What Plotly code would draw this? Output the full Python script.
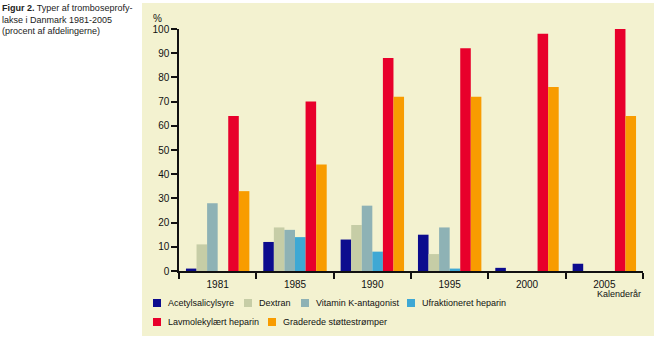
import plotly.graph_objects as go

# ---- data ----
years = ["1981", "1985", "1990", "1995", "2000", "2005"]
series_names = ["Acetylsalicylsyre", "Dextran", "Vitamin K-antagonist",
                "Ufraktioneret heparin", "Lavmolekylært heparin", "Graderede støttestrømper"]
acetylsalicylsyre = [1, 12, 13, 15, 1.3, 3]
dextran = [11, 18, 19, 7, 0, 0]
vitamin_k = [28, 17, 27, 18, 0, 0]
ufraktioneret = [0, 14, 8, 1, 0, 0]
lavmolekylaert = [64, 70, 88, 92, 98, 100]
graderede = [33, 44, 72, 72, 76, 64]
y_ticks = [0, 10, 20, 30, 40, 50, 60, 70, 80, 90, 100]

values = [acetylsalicylsyre, dextran, vitamin_k, ufraktioneret, lavmolekylaert, graderede]
colors = ["#0c0c8e", "#c6cda6", "#8eb2b5", "#3ea8d4", "#e8002b", "#f89c00"]

W, H = 654, 337
L, R, T, B = 179, 11, 29, 66
pw, ph = W - L - R, H - T - B
FONT = "Liberation Sans, Arial, sans-serif"


def px(x):
    return (x - L) / pw


def py(y):
    return (H - B - y) / ph


fig = go.Figure()
for name, vals, col in zip(series_names, values, colors):
    fig.add_trace(go.Bar(x=years, y=vals, name=name, marker=dict(color=col, line=dict(width=0)),
                         showlegend=False))

shapes = [dict(type="rect", xref="paper", yref="paper", x0=px(142), x1=px(655), y0=py(336), y1=py(3),
               fillcolor="#f3f2d0", line=dict(width=0), layer="below")]
annotations = []

# manual legend
legend_pos = [(153, 303), (244, 303), (301, 303), (407, 303), (153, 322), (268, 322)]
for (lx, ly), name, col in zip(legend_pos, series_names, colors):
    shapes.append(dict(type="rect", xref="paper", yref="paper", x0=px(lx), x1=px(lx + 8),
                       y0=py(ly + 4), y1=py(ly - 4), fillcolor=col, line=dict(width=0)))
    annotations.append(dict(xref="paper", yref="paper", x=px(lx + 13), y=py(ly), text=name,
                            showarrow=False, xanchor="left", yanchor="middle",
                            font=dict(family=FONT, size=9, color="#111")))

annotations += [
    dict(xref="paper", yref="paper", x=px(0), y=py(1), xanchor="left", yanchor="top", align="left",
         showarrow=False,
         text="<b>Figur 2.</b> Typer af tromboseprofy-<br>lakse i Danmark 1981-2005<br>(procent af afdelingerne)",
         font=dict(family=FONT, size=9, color="#222")),
    dict(xref="paper", yref="paper", x=px(157), y=py(18), text="%", showarrow=False,
         xanchor="center", yanchor="middle", font=dict(family=FONT, size=10, color="#111")),
    dict(xref="paper", yref="paper", x=px(643), y=py(294), text="Kalenderår", showarrow=False,
         xanchor="right", yanchor="middle", font=dict(family=FONT, size=9, color="#111")),
]

fig.update_layout(
    width=W, height=H,
    margin=dict(l=L, r=R, t=T, b=B, pad=0),
    paper_bgcolor="white", plot_bgcolor="rgba(0,0,0,0)",
    barmode="group", bargap=0.18, bargroupgap=0,
    shapes=shapes, annotations=annotations,
    font=dict(family=FONT, size=10, color="#111"),
)
fig.update_xaxes(showline=True, linecolor="#111", linewidth=1.5, ticks="outside", ticklen=6,
                 tickwidth=1.5, tickcolor="#111", tickson="boundaries", showgrid=False,
                 ticklabelstandoff=3,
                 tickfont=dict(family=FONT, size=10, color="#111"))
fig.update_yaxes(range=[0, 100], tickvals=y_ticks, showline=True, linecolor="#111", linewidth=1.5,
                 ticks="outside", ticklen=6, tickwidth=1.5, tickcolor="#111", showgrid=False,
                 zeroline=False, tickfont=dict(family=FONT, size=10, color="#111"))

fig.write_html("out.html")
